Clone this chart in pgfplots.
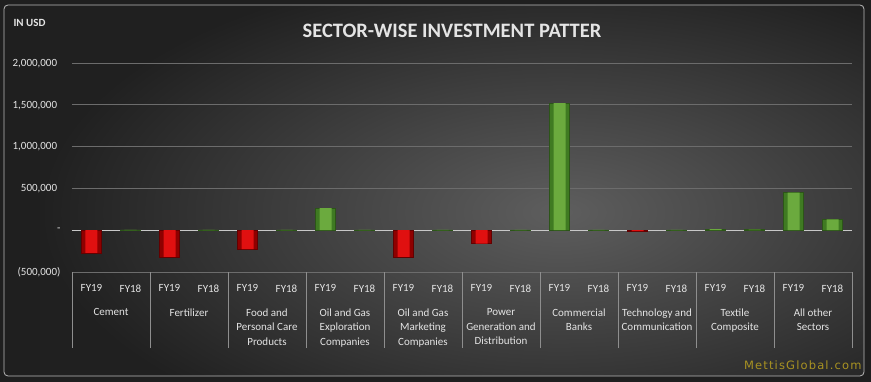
\documentclass[border=0pt]{standalone}
\usepackage{pgfplots}
\pgfplotsset{compat=1.18}
\usepackage{fontspec}
\setmainfont{Carlito}
\newfontfamily\wmfont[LetterSpace=10]{DejaVu Sans}
\definecolor{txt}{HTML}{E4E4E4}
\definecolor{gridc}{HTML}{6C6C6C}
\definecolor{sepc}{HTML}{8E8E8E}
\definecolor{zeroc}{HTML}{C8C8C8}
\definecolor{grnd}{HTML}{3F7A22}
\definecolor{grnl}{HTML}{6BAA3E}
\definecolor{rdd}{HTML}{8E0000}
\definecolor{rdl}{HTML}{E01010}
\definecolor{bgin}{HTML}{5E5E5E}
\definecolor{bgout}{HTML}{202020}
\definecolor{wm}{HTML}{A89222}
\begin{document}
\begin{tikzpicture}[x=1pt,y=1pt]
\fill[black!88] (0,0) rectangle (871,382);
\begin{scope}
\clip[rounded corners=4pt] (4,6) rectangle (864,377);
\shade[inner color=bgin, outer color=bgout] (40,-80) rectangle (1080,420);
\end{scope}
\draw[gray!55, line width=0.8pt, rounded corners=4pt] (4,6) rectangle (864,377);
\node[font=\bfseries\fontsize{20.5}{24}\selectfont, text=txt] at (452,351) {SECTOR-WISE INVESTMENT PATTER};
\node[anchor=west, font=\bfseries\fontsize{11}{13}\selectfont, text=txt] at (10,359) {IN USD};
\node[anchor=east, font=\wmfont\fontsize{11.5}{13}\selectfont, text=wm] at (865,17) {MettisGlobal.com};
\begin{axis}[
  at={(72pt,110pt)}, anchor=south west, scale only axis,
  width=780pt, height=209pt,
  xmin=-0.5, xmax=19.5, ymin=-500000, ymax=2000000,
  axis line style={draw=none},
  scaled y ticks=false,
  tick pos=left,
  ytick={-500000,0,500000,1000000,1500000,2000000},
  yticklabels={{(500,000)},{-\hspace{11pt}},{500,000\phantom{)}},{1,000,000\phantom{)}},{1,500,000\phantom{)}},{2,000,000\phantom{)}}},
  ymajorgrids, grid style={draw=gridc, line width=0.6pt},
  xtick={0,...,19},
  xticklabels={FY19,FY18,FY19,FY18,FY19,FY18,FY19,FY18,FY19,FY18,FY19,FY18,FY19,FY18,FY19,FY18,FY19,FY18,FY19,FY18},
  minor xtick={-0.5,1.5,...,19.5},
  tick align=outside,
  major tick length=0pt,
  minor tick length=76pt,
  minor tick style={draw=sepc, line width=0.6pt},
  ticklabel style={font=\fontsize{11}{14.7}\selectfont, text=txt},
  yticklabel style={xshift=-8pt},
  xticklabel style={yshift=-9pt},
  extra x ticks={0.5,2.5,...,18.5},
  extra x tick labels={Cement, Fertilizer, {Food and\\Personal Care\\Products}, {Oil and Gas\\Exploration\\Companies}, {Oil and Gas\\Marketing\\Companies}, {Power\\Generation and\\Distribution}, {Commercial\\Banks}, {Technology and\\Communication}, {Textile\\Composite}, {All other\\Sectors}},
  extra x tick style={major tick length=0pt, xticklabel style={yshift=-24pt, align=center}},
  ybar, bar shift=0pt,
  clip=false,
]
\draw[zeroc, line width=0.8pt] (axis cs:-0.5,0) -- (axis cs:19.5,0);
\addplot[bar width=20pt, draw=grnd!70!black, line width=0.4pt, fill=grnd] coordinates {
(1,5000) (3,5000) (5,5000) (6,265000) (7,4000) (9,5000) (11,4000) (12,1520000) (13,5000) (15,5000) (16,12000) (17,6000) (18,450000) (19,130000)};
\addplot[bar width=12pt, draw=none, fill=grnl] coordinates {
(1,5000) (3,5000) (5,5000) (6,265000) (7,4000) (9,5000) (11,4000) (12,1520000) (13,5000) (15,5000) (16,12000) (17,6000) (18,450000) (19,130000)};
\addplot[bar width=20pt, draw=rdd!70!black, line width=0.4pt, fill=rdd] coordinates {
(0,-270000) (2,-320000) (4,-225000) (8,-320000) (10,-160000) (14,-12000)};
\addplot[bar width=12pt, draw=none, fill=rdl] coordinates {
(0,-270000) (2,-320000) (4,-225000) (8,-320000) (10,-160000) (14,-12000)};
\end{axis}
\end{tikzpicture}
\end{document}
